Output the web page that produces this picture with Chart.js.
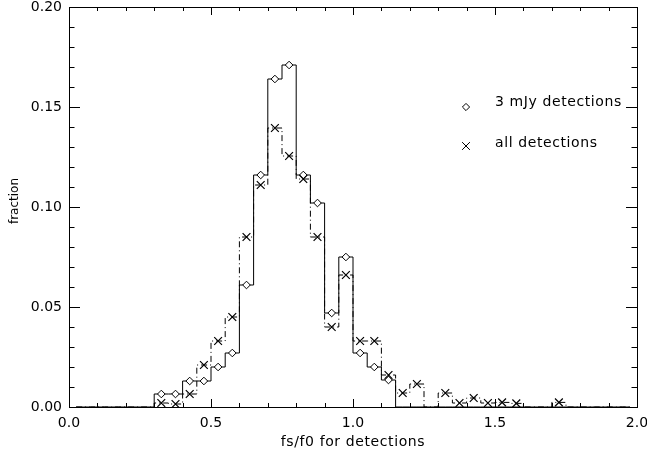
<!DOCTYPE html>
<html>
<head>
<meta charset="utf-8">
<script src="https://cdn.jsdelivr.net/npm/chart.js@4/dist/chart.umd.min.js"></script>
<style>
  html, body { margin: 0; padding: 0; background: #fff; }
  #wrap { width: 647px; height: 452px; }
</style>
</head>
<body>
<div id="wrap"><canvas id="histChart"></canvas></div>
<script>
// bin centres (bin width 0.05)
const binCenters = [0.025, 0.075, 0.125, 0.175, 0.225, 0.275, 0.325, 0.375, 0.425, 0.475,
                    0.525, 0.575, 0.625, 0.675, 0.725, 0.775, 0.825, 0.875, 0.925, 0.975,
                    1.025, 1.075, 1.125, 1.175, 1.225, 1.275, 1.325, 1.375, 1.425, 1.475,
                    1.525, 1.575, 1.625, 1.675, 1.725, 1.775, 1.825, 1.875, 1.925, 1.975];

// fraction, 3 mJy detections (solid, diamonds)
const frac3mJy = [0, 0, 0, 0, 0, 0, 0.0065, 0.0065, 0.013, 0.013,
                  0.020, 0.027, 0.061, 0.116, 0.164, 0.171, 0.116, 0.102, 0.047, 0.075,
                  0.027, 0.020, 0.0135, 0, 0, 0, 0, 0, 0, 0,
                  0, 0, 0, 0, 0, 0, 0, 0, 0, 0];

// fraction, all detections (dash-dot, crosses)
const fracAll = [0, 0, 0, 0, 0, 0, 0.002, 0.0015, 0.0065, 0.021,
                 0.033, 0.045, 0.085, 0.111, 0.1395, 0.1255, 0.114, 0.085, 0.040, 0.066,
                 0.033, 0.033, 0.016, 0.007, 0.0115, 0, 0.007, 0.002, 0.0045, 0.002,
                 0.0023, 0.0018, 0, 0, 0.0023, 0, 0, 0, 0, 0];

const xTicks = [0.0, 0.5, 1.0, 1.5, 2.0];
const yTicks = [0.00, 0.05, 0.10, 0.15, 0.20];

const FONT = "'DejaVu Sans', sans-serif";

function toPoints(vals) {
  return binCenters.map((c, i) => ({ x: c, y: vals[i] }));
}

// IDL style frame: inward ticks on all four sides, axis titles, legend
const frameTicks = {
  id: 'frameTicks',
  afterDraw(chart) {
    const { ctx, chartArea: a, scales } = chart;
    const xs = scales.x, ys = scales.y;
    ctx.save();
    ctx.strokeStyle = '#000';
    ctx.lineWidth = 1;
    ctx.strokeRect(a.left + 0.5, a.top + 0.5, a.right - a.left, a.bottom - a.top);
    ctx.beginPath();
    for (let k = 0; k <= 20; k++) {
      const v = k * 0.1;
      const len = (k % 5 === 0) ? 8 : 4;
      const px = Math.round(xs.getPixelForValue(v)) + 0.5;
      ctx.moveTo(px, a.bottom); ctx.lineTo(px, a.bottom - len);
      ctx.moveTo(px, a.top); ctx.lineTo(px, a.top + len);
    }
    for (let k = 0; k <= 20; k++) {
      const v = k * 0.01;
      const len = (k % 5 === 0) ? 11 : 5.5;
      const py = Math.round(ys.getPixelForValue(v)) + 0.5;
      ctx.moveTo(a.left, py); ctx.lineTo(a.left + len, py);
      ctx.moveTo(a.right, py); ctx.lineTo(a.right - len, py);
    }
    ctx.stroke();

    ctx.fillStyle = '#000';
    ctx.textBaseline = 'middle';

    // axis titles
    ctx.font = '14px ' + FONT;
    ctx.letterSpacing = '0.6px';
    ctx.textAlign = 'center';
    ctx.fillText('fs/f0 for detections', (a.left + a.right) / 2, 442);
    ctx.save();
    ctx.translate(15, 201);
    ctx.rotate(-Math.PI / 2);
    ctx.font = '12px ' + FONT;
    ctx.letterSpacing = '0px';
    ctx.fillText('fraction', 0, 0);
    ctx.restore();

    // legend inside the plot
    ctx.textAlign = 'left';
    ctx.fillStyle = '#fff';
    Chart.helpers.drawPoint(ctx, { pointStyle: 'rectRot', radius: 3.6, borderWidth: 1 }, 466, 107);
    Chart.helpers.drawPoint(ctx, { pointStyle: 'crossRot', radius: 5.5, borderWidth: 1 }, 466, 146);
    ctx.fillStyle = '#000';
    ctx.fillText('3 mJy detections', 495, 102);
    ctx.fillText('all detections', 495, 143);
    ctx.restore();
  }
};

new Chart(document.getElementById('histChart'), {
  type: 'line',
  data: {
    datasets: [{
      label: 'all detections',
      data: toPoints(fracAll),
      stepped: 'middle',
      borderColor: '#000',
      borderWidth: 1,
      borderDash: [6, 3, 1, 3],
      pointStyle: 'crossRot',
      pointRadius: c => (c.raw && c.raw.y > 0) ? 5.5 : 0,
      pointBorderColor: '#000',
      pointBorderWidth: 1.2,
      fill: false
    }, {
      label: '3 mJy detections',
      data: toPoints(frac3mJy),
      stepped: 'middle',
      borderColor: '#000',
      borderWidth: 1,
      pointStyle: 'rectRot',
      pointRadius: c => (c.raw && c.raw.y > 0) ? 3.8 : 0,
      pointBackgroundColor: '#fff',
      pointBorderColor: '#000',
      pointBorderWidth: 1,
      fill: false
    }]
  },
  options: {
    responsive: true,
    maintainAspectRatio: false,
    animation: false,
    layout: { padding: { top: 7, right: 10, left: 0, bottom: 0 } },
    plugins: {
      legend: { display: false },
      tooltip: { enabled: false }
    },
    scales: {
      x: {
        type: 'linear',
        min: 0, max: 2,
        afterBuildTicks: s => { s.ticks = xTicks.map(v => ({ value: v })); },
        afterFit: s => { s.height = 45; s.paddingLeft = 0; s.paddingRight = 0; },
        grid: { display: false, drawTicks: false },
        border: { display: false },
        ticks: {
          padding: 8,
          color: '#000',
          font: { family: FONT, size: 14 },
          maxRotation: 0,
          callback: v => v.toFixed(1)
        }
      },
      y: {
        min: 0, max: 0.2,
        afterBuildTicks: s => { s.ticks = yTicks.map(v => ({ value: v })); },
        afterFit: s => { s.width = 69; s.paddingTop = 0; s.paddingBottom = 0; },
        grid: { display: false, drawTicks: false },
        border: { display: false },
        ticks: {
          padding: 7,
          color: '#000',
          font: { family: FONT, size: 14 },
          callback: v => v.toFixed(2)
        }
      }
    }
  },
  plugins: [frameTicks]
});
</script>
</body>
</html>
